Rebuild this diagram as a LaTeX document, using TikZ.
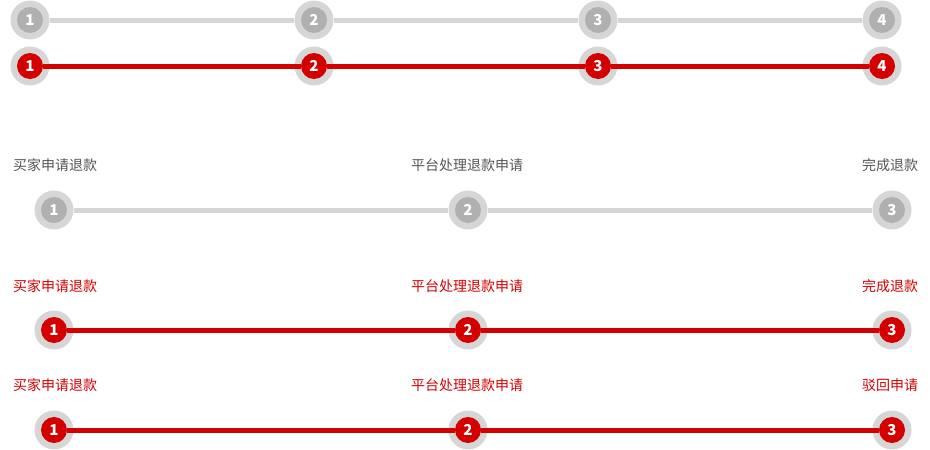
\documentclass[tikz,border=0pt]{standalone}
\usepackage{fontspec}
\newfontfamily\cjk{Noto Sans CJK SC}
\setmainfont{Noto Sans CJK SC}
\definecolor{ringgray}{RGB}{214,214,214}
\definecolor{dotgray}{RGB}{176,176,176}
\definecolor{stepred}{RGB}{212,0,0}
\definecolor{labelgray}{RGB}{85,85,85}
\tikzset{
  ring/.style={circle, fill=ringgray, minimum size=39pt, inner sep=0pt},
  dotg/.style={circle, fill=dotgray, minimum size=26pt, inner sep=0pt, text=white, font=\cjk\bfseries\fontsize{15}{15}\selectfont},
  dotr/.style={dotg, fill=stepred},
  lineg/.style={draw=ringgray, line width=5pt},
  liner/.style={draw=stepred, line width=5pt},
  lblg/.style={text=labelgray, font=\cjk\fontsize{14}{14}\selectfont, inner sep=0pt},
  lblr/.style={lblg, text=stepred},
}
\begin{document}
\begin{tikzpicture}[x=1pt, y=-1pt]
\useasboundingbox (0,0) rectangle (930,450);
% Row A: gray, 4 steps
\foreach \i/\x in {1/30,2/314,3/598,4/882} {
  \node[ring] (ao\i) at (\x,20) {};
  \node[dotg] (a\i) at (\x,20) {\i};
}
\draw[lineg] (ao1) -- (ao2);
\draw[lineg] (ao2) -- (ao3);
\draw[lineg] (ao3) -- (ao4);
% Row B: red, 4 steps
\foreach \i/\x in {1/30,2/314,3/598,4/882} {
  \node[ring] (bo\i) at (\x,66) {};
  \node[dotr] (b\i) at (\x,66) {\i};
}
\draw[liner] (b1) -- (b2);
\draw[liner] (b2) -- (b3);
\draw[liner] (b3) -- (b4);
% Row C: gray, 3 steps with labels
\foreach \i/\x in {1/54,2/468,3/892} {
  \node[ring] (co\i) at (\x,210) {};
  \node[dotg] (c\i) at (\x,210) {\i};
}
\draw[lineg] (co1) -- (co2);
\draw[lineg] (co2) -- (co3);
\node[lblg] (cl1) at (55,165) {买家申请退款};
\node[lblg] (cl2) at (467,165) {平台处理退款申请};
\node[lblg] (cl3) at (890,165) {完成退款};
% Row D: red, 3 steps with labels
\foreach \i/\x in {1/54,2/468,3/892} {
  \node[ring] (do\i) at (\x,330) {};
  \node[dotr] (d\i) at (\x,330) {\i};
}
\draw[liner] (d1) -- (d2);
\draw[liner] (d2) -- (d3);
\node[lblr] (dl1) at (55,286) {买家申请退款};
\node[lblr] (dl2) at (467,286) {平台处理退款申请};
\node[lblr] (dl3) at (890,286) {完成退款};
% Row E: red, 3 steps, rejected
\foreach \i/\x in {1/54,2/468,3/892} {
  \node[ring] (eo\i) at (\x,430) {};
  \node[dotr] (e\i) at (\x,430) {\i};
}
\draw[liner] (e1) -- (e2);
\draw[liner] (e2) -- (e3);
\node[lblr] (el1) at (55,385) {买家申请退款};
\node[lblr] (el2) at (467,385) {平台处理退款申请};
\node[lblr] (el3) at (890,385) {驳回申请};
\end{tikzpicture}
\end{document}
